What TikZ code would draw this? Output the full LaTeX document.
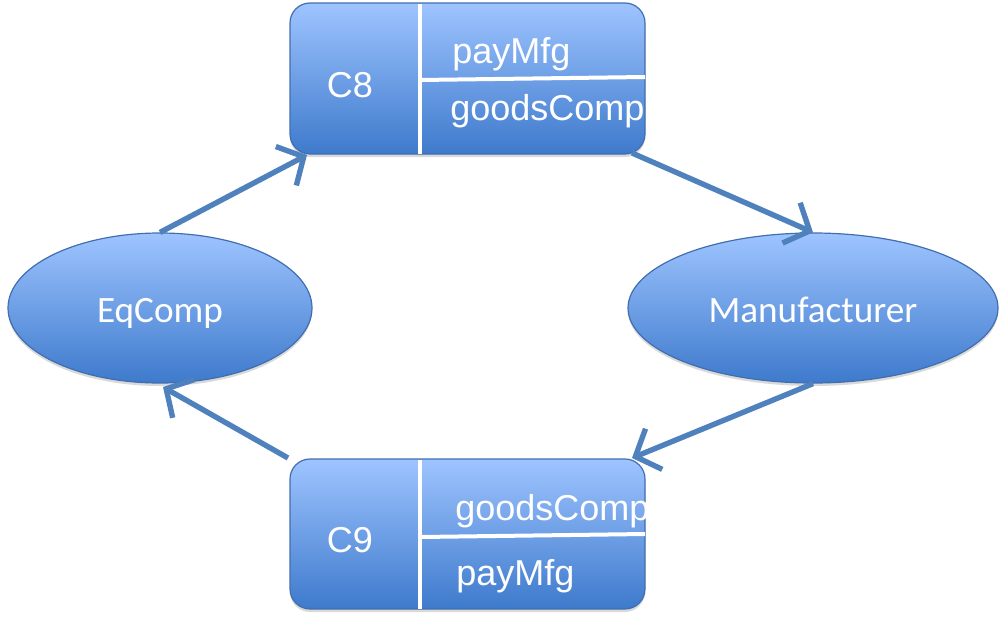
\documentclass[tikz,border=0pt]{standalone}
\usepackage{fontspec}
\setmainfont{Liberation Sans}
\newfontfamily\calib{Carlito}
\usetikzlibrary{arrows.meta,shapes.geometric,shadows}
\definecolor{fillTop}{RGB}{158,196,255}
\definecolor{fillBot}{RGB}{62,122,204}
\definecolor{edgeBlue}{RGB}{65,110,175}
\definecolor{arrowBlue}{RGB}{79,129,189}
\tikzset{
  softshadow/.style={drop shadow={shadow xshift=0pt,shadow yshift=-1.5pt,opacity=0.25,fill=black!60}},
  compbox/.style={draw=edgeBlue, line width=0.6pt, rounded corners=10pt,
    top color=fillTop, bottom color=fillBot, minimum width=177.5pt,
    minimum height=75.5pt, inner sep=0pt, softshadow},
  agent/.style={ellipse, draw=edgeBlue, line width=0.6pt, top color=fillTop,
    bottom color=fillBot, inner sep=0pt, minimum height=75pt, text=white,
    font=\calib\fontsize{18.6}{22}\selectfont, text height=14pt, text depth=0pt,
    softshadow},
  boxtext/.style={text=white, font=\fontsize{18}{21}\selectfont, inner sep=0pt},
  divider/.style={white, line width=2pt},
  flow/.style={arrowBlue, line width=2.7pt, -{Straight Barb[length=10pt,width=22pt]}}
}
\begin{document}
\begin{tikzpicture}[x=0.5pt,y=-0.5pt]
\useasboundingbox (0,0) rectangle (1004,621);
% ellipses
\node[agent, minimum width=152pt] (eq) at (160,308) {EqComp};
\node[agent, minimum width=185pt] (mf) at (813,308) {Manufacturer};
% boxes
\node[compbox] (c8) at (467.5,78.5) {};
\node[compbox, minimum height=75pt] (c9) at (467.5,534) {};
% dividers
\draw[divider] (420,3.5) -- (420,153.5);
\draw[divider] (420,80) -- (645,77);
\draw[divider] (420,459.5) -- (420,608.5);
\draw[divider] (420,537) -- (645,534);
% box texts
\begin{scope}
  \clip[rounded corners=10pt] (290,3) rectangle (645,154);
  \node[boxtext] (c8l) at (350,85) {C8};
  \node[boxtext, anchor=base west] (c8a) at (452,63) {payMfg};
  \node[boxtext, anchor=base west] (c8b) at (450,120) {goodsComp};
\end{scope}
\begin{scope}
  \clip[rounded corners=10pt] (290,459) rectangle (645,609);
  \node[boxtext] (c9l) at (350,540) {C9};
  \node[boxtext, anchor=base west] (c9a) at (455,520) {goodsComp};
  \node[boxtext, anchor=base west] (c9b) at (456,585) {payMfg};
\end{scope}
% connectors
\coordinate (c8in) at (307,155);
\coordinate (c8out) at (632,153);
\coordinate (c9in) at (632,458);
\coordinate (c9out) at (288,458);
\coordinate (eqin) at (163,387);
\draw[flow] (eq.north) -- (c8in);
\draw[flow] (c8out) -- (mf.north);
\draw[flow] (mf.south) -- (c9in);
\draw[flow] (c9out) -- (eqin);
\end{tikzpicture}
\end{document}
